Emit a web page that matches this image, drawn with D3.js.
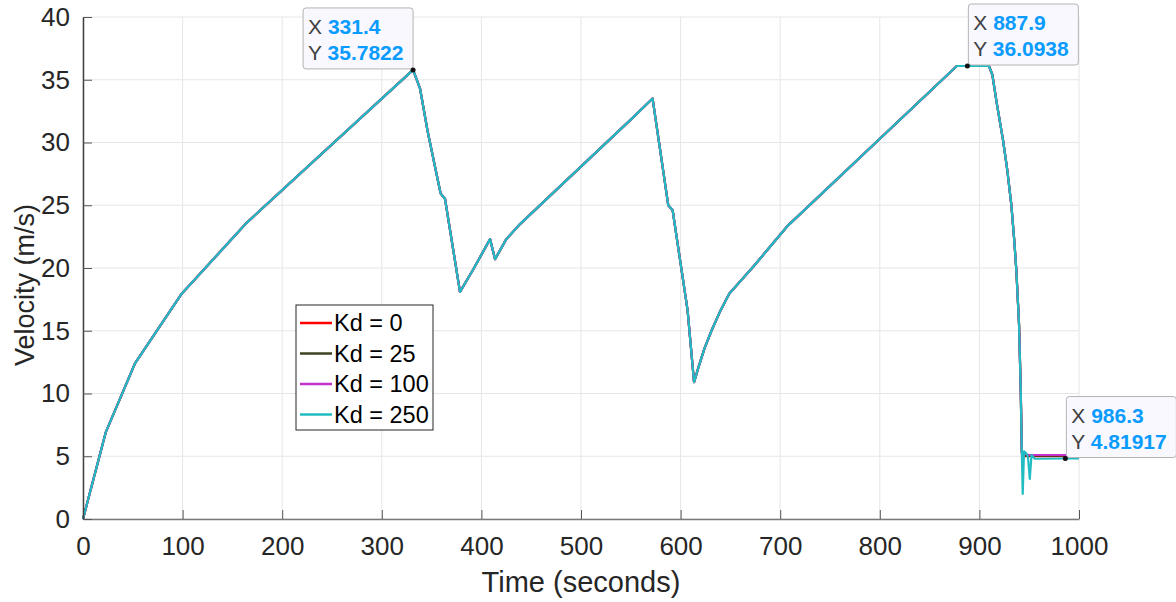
<!DOCTYPE html>
<html>
<head>
<meta charset="utf-8">
<script src="https://cdn.jsdelivr.net/npm/d3@7"></script>
<style>
  body { margin: 0; background: #fff; }
  text { font-family: "Liberation Sans", Arial, Helvetica, sans-serif; }
</style>
</head>
<body>
<svg id="chart" width="1176" height="602"></svg>
<script>
// shared part of the velocity trace (all four Kd runs lie on top of each other here)
const sharedTime = [0, 22.8, 52.2, 99.1, 164.3, 331.4, 338.4, 346, 359, 363.5, 378.5, 391.9, 408.7, 413.7, 425, 438.8,
  478.9, 551, 571.9, 587.6, 592, 607, 613.5, 618, 624, 631, 640, 648.8, 672.9, 708, 877.3, 887.9, 909.6, 913, 917.3,
  923.7, 928, 932.1, 935, 937.1, 939.8, 941.5];
const sharedVel = [0, 6.9, 12.4, 17.95, 23.6, 35.7822, 34.3, 30.9, 25.95, 25.5, 18.1, 19.9, 22.3, 20.7, 22.3, 23.5,
  26.5, 31.9, 33.5, 25.0, 24.6, 16.65, 10.9, 12.1, 13.6, 15.0, 16.6, 17.95, 20.1, 23.4, 36.0938, 36.0938, 36.0938, 35.4, 33.2,
  30.2, 27.8, 25.0, 22.2, 19.8, 15.5, 10.3];

// where the runs split apart after the final braking
const tailTime = [
  [942.6, 944, 1000],
  [942.6, 944, 1000],
  [942.6, 943.4, 945, 948, 1000],
  [942.5, 943.5, 944.8, 947.5, 948.8, 950.6, 952.3, 955.6, 986.3, 1000]
];
const tailVel = [
  [5.2, 5.0, 5.0],
  [5.3, 5.05, 5.05],
  [5.4, 5.1, 5.3, 5.1, 5.1],
  [5.7, 2.0, 5.4, 5.2, 4.9, 3.2, 5.1, 4.8, 4.81917, 4.82]
];

const seriesNames = ['Kd = 0', 'Kd = 25', 'Kd = 100', 'Kd = 250'];
const seriesColors = ['#ff0000', '#3f4220', '#c532c9', '#21bcc2'];

const xTicks = [0, 100, 200, 300, 400, 500, 600, 700, 800, 900, 1000];
const yTicks = [0, 5, 10, 15, 20, 25, 30, 35, 40];

// data tips
const tipX = [331.4, 887.9, 986.3];
const tipY = [35.7822, 36.0938, 4.81917];
const tipLabelX = ['331.4', '887.9', '986.3'];
const tipLabelY = ['35.7822', '36.0938', '4.81917'];

const margin = { left: 83, right: 97, top: 17, bottom: 83 };
const W = 1176, H = 602;

const svg = d3.select('#chart');

const x = d3.scaleLinear().domain([0, 1000]).range([margin.left, W - margin.right]);
const y = d3.scaleLinear().domain([0, 40]).range([H - margin.bottom, margin.top]);

// grid
svg.append('g')
  .selectAll('line')
  .data(xTicks)
  .enter()
  .append('line')
  .attr('x1', d => x(d)).attr('x2', d => x(d))
  .attr('y1', y(0)).attr('y2', y(40))
  .attr('stroke', '#e6e6e6').attr('stroke-width', 1);

svg.append('g')
  .selectAll('line')
  .data(yTicks)
  .enter()
  .append('line')
  .attr('x1', x(0)).attr('x2', x(1000))
  .attr('y1', d => y(d)).attr('y2', d => y(d))
  .attr('stroke', '#e6e6e6').attr('stroke-width', 1);

// build the series from shared part + tail
const series = seriesNames.map((name, i) => {
  const pts = sharedTime.map((t, j) => [t, sharedVel[j]]);
  tailTime[i].forEach((t, j) => pts.push([t, tailVel[i][j]]));
  return { name, color: seriesColors[i], pts };
});

const line = d3.line().x(d => x(d[0])).y(d => y(d[1]));

svg.append('g')
  .selectAll('path')
  .data(series)
  .enter()
  .append('path')
  .attr('d', d => line(d.pts))
  .attr('fill', 'none')
  .attr('stroke', d => d.color)
  .attr('stroke-width', 2.2)
  .attr('stroke-linejoin', 'round');

// axes (ticks inward, like matlab)
const xAxis = svg.append('g')
  .attr('transform', `translate(0,${y(0)})`)
  .call(d3.axisBottom(x).tickValues(xTicks).tickFormat(d3.format('d'))
    .tickSizeInner(-9).tickSizeOuter(0).tickPadding(18));
xAxis.select('.domain').attr('stroke', '#7a7a7a').attr('stroke-width', 1.5);
xAxis.selectAll('.tick line').attr('stroke', '#555');
xAxis.selectAll('text').attr('font-size', 26).attr('fill', '#262626')
  .attr('font-family', '"Liberation Sans", Arial, sans-serif');

const yAxis = svg.append('g')
  .attr('transform', `translate(${x(0)},0)`)
  .call(d3.axisLeft(y).tickValues(yTicks).tickSizeInner(-9).tickSizeOuter(0).tickPadding(13));
yAxis.select('.domain').attr('stroke', '#404040').attr('stroke-width', 1.5);
yAxis.selectAll('.tick line').attr('stroke', '#555');
yAxis.selectAll('text').attr('font-size', 26).attr('fill', '#262626')
  .attr('font-family', '"Liberation Sans", Arial, sans-serif');

// axis labels
svg.append('text')
  .attr('x', (x(0) + x(1000)) / 2)
  .attr('y', 592)
  .attr('text-anchor', 'middle')
  .attr('font-size', 29)
  .attr('fill', '#262626')
  .text('Time (seconds)');

svg.append('text')
  .attr('transform', `translate(34,${(y(0) + y(40)) / 2 + 17}) rotate(-90)`)
  .attr('text-anchor', 'middle')
  .attr('font-size', 27)
  .attr('fill', '#262626')
  .text('Velocity (m/s)');

// legend
const legend = svg.append('g').attr('transform', 'translate(296,305)');
legend.append('rect')
  .attr('width', 137).attr('height', 125)
  .attr('fill', '#fff').attr('stroke', '#262626').attr('stroke-width', 1);
series.forEach((s, i) => {
  const ly = 18 + i * 30.5;
  legend.append('line')
    .attr('x1', 4).attr('x2', 36).attr('y1', ly).attr('y2', ly)
    .attr('stroke', s.color).attr('stroke-width', 2.5);
  legend.append('text')
    .attr('x', 38).attr('y', ly + 8)
    .attr('font-size', 23.5)
    .attr('fill', '#000')
    .text(s.name);
});

// data tips
const tipW = 110, tipH = 61;
tipX.forEach((tx, i) => {
  const px = x(tx), py = y(tipY[i]);
  // first tip sits up-left of its point, the others up-right
  const bx = i === 0 ? px - tipW : px + 1;
  const by = py - tipH - 1;
  const g = svg.append('g');
  g.append('rect')
    .attr('x', bx).attr('y', by).attr('width', tipW).attr('height', tipH)
    .attr('rx', 3)
    .attr('fill', '#f8f8fe').attr('stroke', '#b4b4b4').attr('stroke-width', 1);
  [['X', tipLabelX[i]], ['Y', tipLabelY[i]]].forEach((r, k) => {
    const t = g.append('text')
      .attr('x', bx + 5).attr('y', by + 26 + k * 26)
      .attr('font-size', 21);
    t.append('tspan').attr('fill', '#404040').text(r[0] + ' ');
    t.append('tspan').attr('fill', '#0a9bff').attr('font-weight', 'bold').text(r[1]);
  });
  g.append('circle').attr('cx', px).attr('cy', py).attr('r', 2.5).attr('fill', '#111');
});
</script>
</body>
</html>
